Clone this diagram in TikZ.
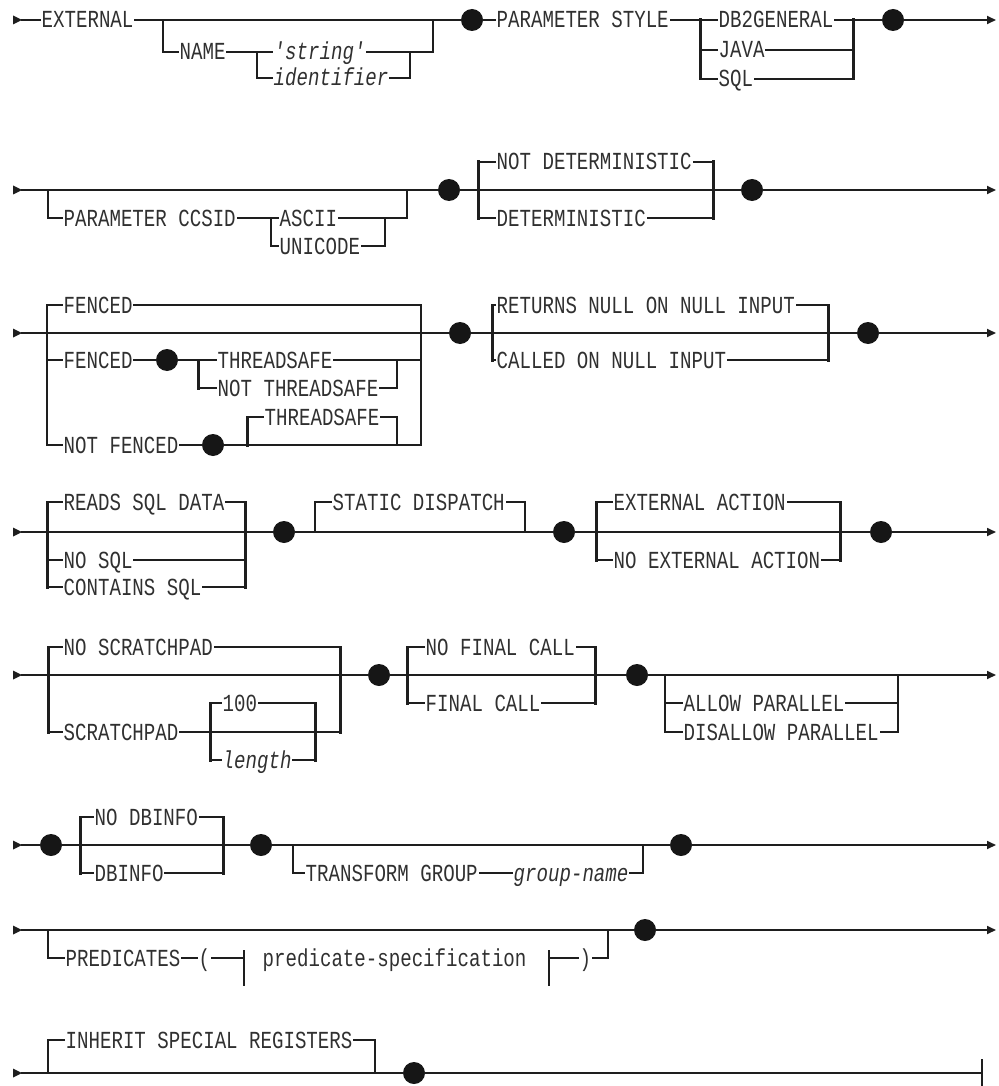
\documentclass[tikz,border=0pt]{standalone}
\usepackage{fontspec}
\newfontfamily\kwfam[FakeStretch=0.78]{Liberation Mono}
\usetikzlibrary{arrows.meta}
\definecolor{lc}{HTML}{1E1E1E}
\definecolor{tc}{HTML}{303030}
\definecolor{dc}{HTML}{161616}
\newcommand\kwfont{\kwfam\fontsize{24.5}{25}\selectfont}
\newcommand\kwifont{\kwfam\itshape\fontsize{24.5}{25}\selectfont}
\begin{document}
\begin{tikzpicture}[x=1pt,y=-1pt,
  ln/.style={draw=lc,line width=1.7pt,line cap=rect},
  tk/.style={draw=lc,line width=3pt,line cap=rect},
  kw/.style={font=\kwfont,text=tc,inner xsep=1.5pt,inner ysep=0pt,text height=16pt,text depth=0pt,anchor=west},
  kwi/.style={kw,font=\kwifont},
  dot/.style={circle,fill=dc,minimum size=22pt,inner sep=0pt},
  arr/.style={-{Triangle[length=9pt,width=8pt]}},
  bar/.style={draw=lc,line width=2.4pt}]
\useasboundingbox (0,0) rectangle (998,1086);
\foreach \y/\n in {20/1,190/2,333/3,532/4,675/5,845/6,930/7,1073/8}{
  \fill[lc] (13,{\y-4.5}) -- (22,\y) -- (13,{\y+4.5}) -- cycle;
  \coordinate (s\n) at (22,\y);
}
% ---------------- Row 1
\node[kw] (ext) at (40,20) {EXTERNAL};
\node[dot] (d1a) at (472,20) {};
\draw[ln] (s1) -- (ext.west);
\draw[ln] (ext.east) -- (d1a);
\node[kw] (nm) at (178,52) {NAME};
\node[kwi] (str) at (272,52) {'string'};
\node[kwi] (idf) at (272,78) {identifier};
\draw[ln] (163,20) |- (nm.west);
\draw[ln] (nm.east) -- (str.west);
\draw[ln] (257,52) |- (idf.west);
\draw[ln] (str.east) -- (433,52) -- (433,20);
\draw[ln] (idf.east) -| (410,52);
\node[kw] (pst) at (495,20) {PARAMETER STYLE};
\node[kw] (db2) at (717,20) {DB2GENERAL};
\node[kw] (jav) at (717,50) {JAVA};
\node[kw] (sql) at (717,79) {SQL};
\node[dot] (d1b) at (893,20) {};
\draw[ln] (d1a) -- (pst.west);
\draw[ln] (pst.east) -- (db2.west);
\draw[tk] (700,20) -- (700,79);
\draw[ln] (700,50) -- (jav.west);
\draw[ln] (700,79) -- (sql.west);
\draw[ln] (db2.east) -- (d1b);
\draw[ln] (jav.east) -- (853,50);
\draw[ln] (sql.east) -- (853,79);
\draw[tk] (853,20) -- (853,79);
\draw[ln,arr] (d1b) -- (996,20);
% ---------------- Row 2
\node[dot] (d2a) at (449,190) {};
\node[dot] (d2b) at (752,190) {};
\draw[ln] (s2) -- (d2a);
\node[kw] (pcc) at (62,218) {PARAMETER CCSID};
\node[kw] (asc) at (278,218) {ASCII};
\node[kw] (uni) at (278,246) {UNICODE};
\draw[ln] (48,190) |- (pcc.west);
\draw[ln] (pcc.east) -- (asc.west);
\draw[ln] (271,218) |- (uni.west);
\draw[ln] (asc.east) -- (407,218) -- (407,190);
\draw[ln] (uni.east) -| (385,218);
\draw[ln] (d2a) -- (d2b);
\node[kw] (ndt) at (495,162) {NOT DETERMINISTIC};
\node[kw] (det) at (495,218) {DETERMINISTIC};
\draw[tk] (478,162) -- (478,218);
\draw[ln] (478,162) -- (ndt.west);
\draw[ln] (478,218) -- (det.west);
\draw[ln] (ndt.east) -- (713,162);
\draw[ln] (det.east) -- (713,218);
\draw[tk] (713,162) -- (713,218);
\draw[ln,arr] (d2b) -- (996,190);
% ---------------- Row 3
\node[dot] (d3a) at (460,333) {};
\node[dot] (d3b) at (868,333) {};
\draw[ln] (s3) -- (d3a);
\draw[ln] (47,305) -- (47,445);
\draw[ln] (421,305) -- (421,445);
\node[kw] (fc1) at (62,305) {FENCED};
\draw[ln] (47,305) -- (fc1.west);
\draw[ln] (fc1.east) -- (421,305);
\node[kw] (fc2) at (62,360) {FENCED};
\node[dot] (d3f) at (167,360) {};
\node[kw] (ts1) at (216,360) {THREADSAFE};
\node[kw] (nts) at (216,388) {NOT THREADSAFE};
\draw[ln] (47,360) -- (fc2.west);
\draw[ln] (fc2.east) -- (d3f);
\draw[ln] (d3f) -- (ts1.west);
\draw[ln] (ts1.east) -- (421,360);
\draw[tk] (198,360) -- (198,388);
\draw[ln] (198,388) -- (nts.west);
\draw[ln] (nts.east) -| (397,360);
\node[kw] (nfc) at (62,445) {NOT FENCED};
\node[dot] (d3n) at (213,445) {};
\node[kw] (ts2) at (263,417) {THREADSAFE};
\draw[ln] (47,445) -- (nfc.west);
\draw[ln] (nfc.east) -- (d3n);
\draw[ln] (d3n) -- (421,445);
\draw[tk] (247,417) -- (247,445);
\draw[ln] (247,417) -- (ts2.west);
\draw[ln] (ts2.east) -| (397,445);
\draw[ln] (d3a) -- (d3b);
\node[kw] (rnn) at (495,305) {RETURNS NULL ON NULL INPUT};
\node[kw] (cnn) at (495,360) {CALLED ON NULL INPUT};
\draw[tk] (492,305) -- (492,360);
\draw[ln] (492,305) -- (rnn.west);
\draw[ln] (492,360) -- (cnn.west);
\draw[ln] (rnn.east) -- (828,305);
\draw[ln] (cnn.east) -- (828,360);
\draw[tk] (828,305) -- (828,360);
\draw[ln,arr] (d3b) -- (996,333);
% ---------------- Row 4
\node[dot] (d4a) at (284,532) {};
\node[dot] (d4b) at (564,532) {};
\node[dot] (d4c) at (881,532) {};
\draw[ln] (s4) -- (d4a);
\draw[ln] (d4a) -- (d4b);
\draw[ln] (d4b) -- (d4c);
\draw[ln,arr] (d4c) -- (996,532);
\node[kw] (rsd) at (62,502) {READS SQL DATA};
\node[kw] (nsq) at (62,560) {NO SQL};
\node[kw] (csq) at (62,587) {CONTAINS SQL};
\draw[tk] (47,502) -- (47,587);
\draw[ln] (47,502) -- (rsd.west);
\draw[ln] (47,560) -- (nsq.west);
\draw[ln] (47,587) -- (csq.west);
\draw[ln] (rsd.east) -- (245,502);
\draw[ln] (nsq.east) -- (245,560);
\draw[ln] (csq.east) -- (245,587);
\draw[tk] (245,502) -- (245,587);
\node[kw] (sdp) at (331,502) {STATIC DISPATCH};
\draw[ln] (315,532) |- (sdp.west);
\draw[ln] (sdp.east) -| (525,532);
\node[kw] (eac) at (612,502) {EXTERNAL ACTION};
\node[kw] (nea) at (612,560) {NO EXTERNAL ACTION};
\draw[tk] (596,502) -- (596,560);
\draw[ln] (596,502) -- (eac.west);
\draw[ln] (596,560) -- (nea.west);
\draw[ln] (eac.east) -- (840,502);
\draw[ln] (nea.east) -- (840,560);
\draw[tk] (840,502) -- (840,560);
% ---------------- Row 5
\node[dot] (d5a) at (379,675) {};
\node[dot] (d5b) at (637,675) {};
\draw[ln] (s5) -- (d5a);
\draw[ln] (d5a) -- (d5b);
\draw[ln,arr] (d5b) -- (996,675);
\node[kw] (nsp) at (62,647) {NO SCRATCHPAD};
\node[kw] (scp) at (62,732) {SCRATCHPAD};
\draw[tk] (48,647) -- (48,732);
\draw[ln] (48,647) -- (nsp.west);
\draw[ln] (48,732) -- (scp.west);
\draw[ln] (nsp.east) -- (340,647);
\draw[ln] (scp.east) -- (340,732);
\draw[tk] (340,647) -- (340,732);
\node[kw] (hun) at (221,703) {100};
\node[kwi] (len) at (221,760) {length};
\draw[tk] (210,703) -- (210,760);
\draw[ln] (210,703) -- (hun.west);
\draw[ln] (210,760) -- (len.west);
\draw[ln] (hun.east) -- (315,703);
\draw[ln] (len.east) -- (315,760);
\draw[tk] (315,703) -- (315,760);
\node[kw] (nfl) at (424,647) {NO FINAL CALL};
\node[kw] (fcl) at (424,703) {FINAL CALL};
\draw[tk] (407,647) -- (407,703);
\draw[ln] (407,647) -- (nfl.west);
\draw[ln] (407,703) -- (fcl.west);
\draw[ln] (nfl.east) -- (595,647);
\draw[ln] (fcl.east) -- (595,703);
\draw[tk] (595,647) -- (595,703);
\node[kw] (alp) at (682,703) {ALLOW PARALLEL};
\node[kw] (dap) at (682,732) {DISALLOW PARALLEL};
\draw[ln] (665,675) -- (665,732);
\draw[ln] (665,703) -- (alp.west);
\draw[ln] (665,732) -- (dap.west);
\draw[ln] (alp.east) -- (898,703);
\draw[ln] (dap.east) -- (898,732);
\draw[ln] (898,675) -- (898,732);
% ---------------- Row 6
\node[dot] (d6a) at (51,845) {};
\node[dot] (d6b) at (261,845) {};
\node[dot] (d6c) at (681,845) {};
\draw[ln] (s6) -- (d6a);
\draw[ln] (d6a) -- (d6b);
\draw[ln] (d6b) -- (d6c);
\draw[ln,arr] (d6c) -- (996,845);
\node[kw] (ndb) at (93,817) {NO DBINFO};
\node[kw] (dbi) at (93,873) {DBINFO};
\draw[tk] (80,817) -- (80,873);
\draw[ln] (80,817) -- (ndb.west);
\draw[ln] (80,873) -- (dbi.west);
\draw[ln] (ndb.east) -- (223,817);
\draw[ln] (dbi.east) -- (223,873);
\draw[tk] (223,817) -- (223,873);
\node[kw] (tgr) at (304,873) {TRANSFORM GROUP};
\node[kwi] (gnm) at (512,873) {group-name};
\draw[ln] (293,845) |- (tgr.west);
\draw[ln] (tgr.east) -- (gnm.west);
\draw[ln] (gnm.east) -| (643,845);
% ---------------- Row 7
\node[dot] (d7) at (645,930) {};
\draw[ln] (s7) -- (d7);
\draw[ln,arr] (d7) -- (996,930);
\node[kw] (prd) at (64,958) {PREDICATES};
\node[kw] (lpr) at (197,958) {(};
\node[kw] (psp) at (261,958) {predicate-specification};
\node[kw] (rpr) at (578,958) {)};
\draw[ln] (48,930) |- (prd.west);
\draw[ln] (prd.east) -- (lpr.west);
\draw[ln] (lpr.east) -- (244,958);
\draw[bar] (244,950) -- (244,986);
\draw[bar] (549,950) -- (549,986);
\draw[ln] (549,958) -- (rpr.west);
\draw[ln] (rpr.east) -| (608,930);
% ---------------- Row 8
\node[dot] (d8) at (414,1073) {};
\draw[ln] (s8) -- (d8);
\draw[ln] (d8) -- (982,1073);
\draw[bar] (982,1059) -- (982,1086);
\node[kw] (isr) at (64,1040) {INHERIT SPECIAL REGISTERS};
\draw[ln] (48,1073) |- (isr.west);
\draw[ln] (isr.east) -| (375,1073);
\end{tikzpicture}
\end{document}
